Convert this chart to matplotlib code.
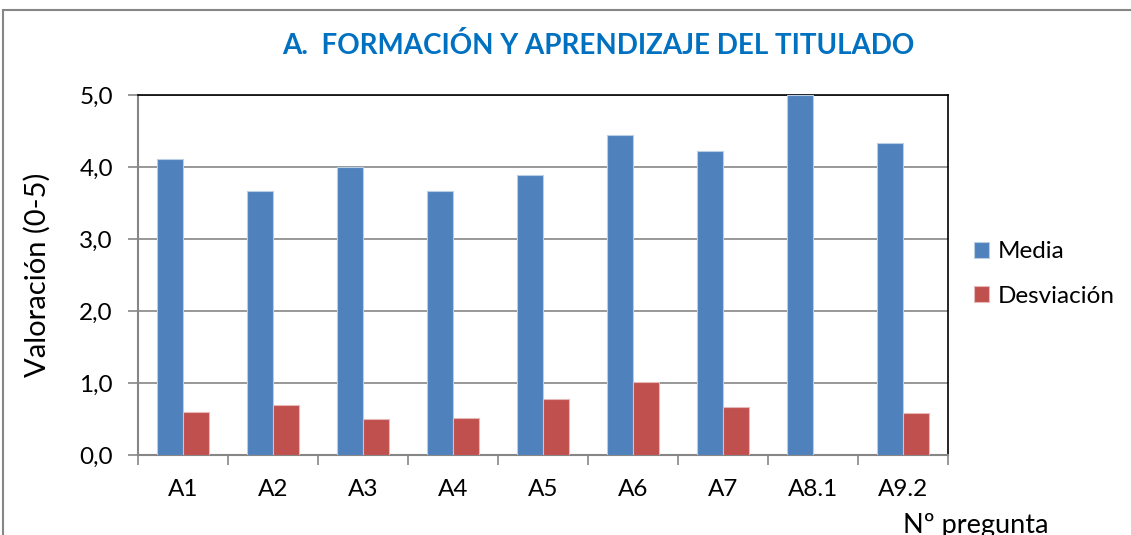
import numpy as np
import matplotlib
matplotlib.use("Agg")
import matplotlib.pyplot as plt
from matplotlib.patches import Rectangle
from matplotlib.ticker import FixedLocator, FuncFormatter

plt.rcParams["font.family"] = ["Lato", "DejaVu Sans"]

# data
preguntas = ["A1", "A2", "A3", "A4", "A5", "A6", "A7", "A8.1", "A9.2"]
media = [4.11, 3.67, 4.00, 3.67, 3.89, 4.44, 4.22, 5.00, 4.33]
desviacion = [0.60, 0.70, 0.50, 0.52, 0.78, 1.01, 0.67, 0.0, 0.58]

azul = "#4F81BD"
rojo = "#C0504D"
gris = "#868686"

W, H = 1131, 535
fig = plt.figure(figsize=(W / 100, H / 100), dpi=100)
ax = fig.add_axes([138 / W, 80 / H, 810 / W, 360 / H])

x = np.arange(len(preguntas))
w = 0.286
ax.bar(x - w / 2, media, w, color=azul, edgecolor="#B9CDE5", linewidth=0.8,
       label="Media", zorder=3)
ax.bar(x + w / 2, desviacion, w, color=rojo, edgecolor="#E6B9B8",
       linewidth=0.8, label="Desviación", zorder=3)

ax.set_xlim(-0.5, len(preguntas) - 0.5)
ax.set_ylim(0, 5)
ax.set_yticks(np.arange(0, 5.01, 1.0))
ax.yaxis.set_major_formatter(FuncFormatter(lambda v, p: f"{v:.1f}".replace(".", ",")))
ax.yaxis.grid(True, color=gris, linewidth=1.2, zorder=0)

ax.set_xticks(x)
ax.set_xticklabels(preguntas)
ax.xaxis.set_minor_locator(FixedLocator(np.arange(-0.5, len(preguntas), 1.0)))
ax.tick_params(axis="x", which="major", length=0, pad=17, labelsize=17.5)
ax.tick_params(axis="x", which="minor", length=7, width=1.2, color=gris)
ax.tick_params(axis="y", length=7, width=1.2, color=gris, labelsize=17.5, pad=11)

ax.spines["left"].set_color(gris)
ax.spines["bottom"].set_color(gris)
ax.spines["left"].set_linewidth(1.5)
ax.spines["bottom"].set_linewidth(1.5)
ax.spines["top"].set_color("black")
ax.spines["right"].set_color("black")
ax.spines["top"].set_linewidth(1.2)
ax.spines["right"].set_linewidth(1.2)

fig.text(37 / W, (H - 275) / H, "Valoración (0-5)", rotation=90,
         ha="center", va="center", fontsize=21)

fig.text(598 / W, (H - 45) / H,
         "A.  FORMACIÓN Y APRENDIZAJE DEL TITULADO",
         ha="center", va="center", fontsize=20, fontweight="bold",
         color="#0070C0")

fig.text(976 / W, (H - 526) / H, "Nº pregunta", ha="center",
         va="center", fontsize=19.5)

fig.legend(loc="center left", bbox_to_anchor=(974 / W, (H - 274) / H),
           frameon=False, fontsize=17.5, handlelength=0.62, handleheight=0.62,
           handletextpad=0.35, labelspacing=0.95, borderpad=0,
           borderaxespad=0)

# outer chart frame (clipped at right and bottom)
fig.add_artist(Rectangle((3 / W, -0.1), 2, (H - 10) / H + 0.1,
                         transform=fig.transFigure, fill=False,
                         edgecolor=gris, linewidth=1.5))

fig.savefig("out.png", dpi=100)
